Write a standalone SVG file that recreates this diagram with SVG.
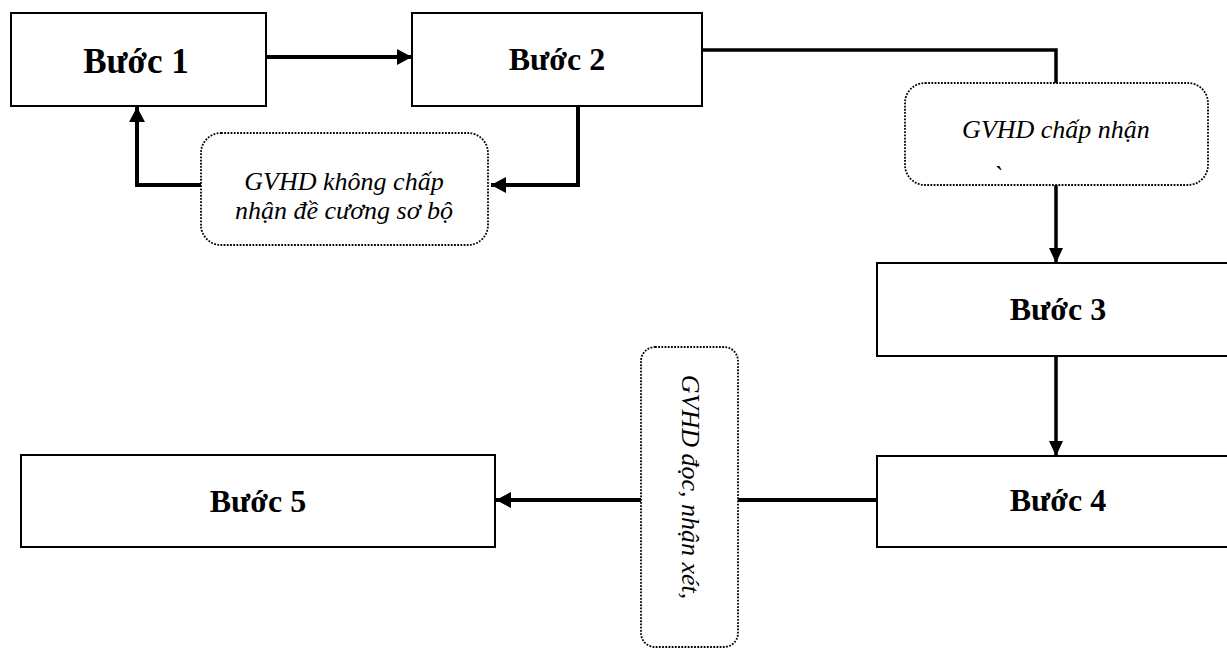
<svg xmlns="http://www.w3.org/2000/svg" width="1227" height="648" viewBox="0 0 1227 648">
<style>
.box{fill:#fff;stroke:#000;stroke-width:2}
.lbl{fill:#fff;stroke:#000;stroke-width:1.8;stroke-dasharray:1.8 1.4}
.t{font-family:"Liberation Serif","Times New Roman",serif;font-weight:bold;text-anchor:middle;fill:#000}
.it{font-family:"Liberation Serif","Times New Roman",serif;font-style:italic;font-size:26px;text-anchor:middle;fill:#000}
.c4{fill:none;stroke:#000;stroke-width:4}
.c3{fill:none;stroke:#000;stroke-width:3.5}
</style>
<defs>
<marker id="ah" markerUnits="userSpaceOnUse" markerWidth="16" markerHeight="16" refX="15" refY="8" orient="auto">
<path d="M0,0 L15,8 L0,16 z" fill="#000"/>
</marker>
<marker id="ahs" markerUnits="userSpaceOnUse" markerWidth="16" markerHeight="14" refX="15" refY="7" orient="auto">
<path d="M0,0 L15,7 L0,14 z" fill="#000"/>
</marker>
</defs>
<rect width="1227" height="648" fill="#fff"/>
<g id="connectors">
<line class="c4" x1="266" y1="57" x2="412" y2="57" marker-end="url(#ah)"/>
<polyline class="c4" points="578,106 578,185 491,185" marker-end="url(#ah)"/>
<polyline class="c4" points="201,185 137,185 137,107" marker-end="url(#ah)"/>
<polyline class="c3" points="703,50 1056,50 1056,83"/>
<line class="c3" x1="1056" y1="185" x2="1056" y2="263" marker-end="url(#ahs)"/>
<line class="c3" x1="1056" y1="356" x2="1056" y2="456" marker-end="url(#ahs)"/>
<line class="c4" x1="877" y1="500" x2="738" y2="500"/>
<line class="c4" x1="641" y1="500" x2="496" y2="500" marker-end="url(#ah)"/>
</g>
<g id="buoc1">
<rect class="box" x="11" y="13" width="255" height="93"/>
<text class="t" x="136" y="73" font-size="35">Bước 1</text>
</g>
<g id="buoc2">
<rect class="box" x="412" y="13" width="290" height="93"/>
<text class="t" x="557" y="70" font-size="32">Bước 2</text>
</g>
<g id="label-khong-chap-nhan">
<rect class="lbl" x="201" y="133" width="287" height="112" rx="20" ry="20"/>
<text class="it" x="344" y="190">GVHD không chấp</text>
<text class="it" x="344" y="219">nhận đề cương sơ bộ</text>
</g>
<g id="label-chap-nhan">
<rect class="lbl" x="905" y="83" width="303" height="102" rx="20" ry="20"/>
<text class="it" x="1056" y="138">GVHD chấp nhận</text>
<text class="it" x="997" y="184">`</text>
</g>
<g id="buoc3">
<rect class="box" x="877" y="263" width="365" height="93"/>
<text class="t" x="1058" y="320" font-size="32">Bước 3</text>
</g>
<g id="buoc4">
<rect class="box" x="877" y="456" width="365" height="91"/>
<text class="t" x="1058" y="511" font-size="32">Bước 4</text>
</g>
<g id="label-doc-nhan-xet">
<rect class="lbl" x="641" y="347" width="97" height="300" rx="14" ry="14"/>
<text class="it" transform="translate(682,487) rotate(90)" x="0" y="0" font-size="22">GVHD đọc, nhận xét,</text>
</g>
<g id="buoc5">
<rect class="box" x="21" y="455" width="474" height="92"/>
<text class="t" x="258" y="512" font-size="32">Bước 5</text>
</g>
</svg>
